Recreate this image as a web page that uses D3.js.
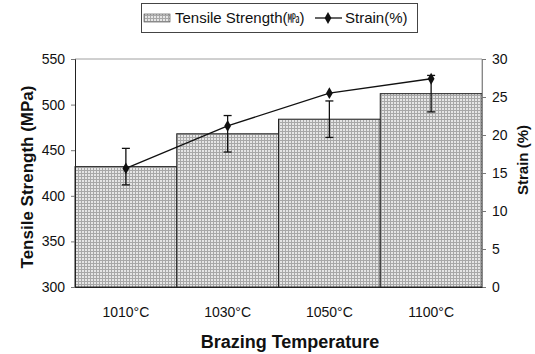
<!DOCTYPE html>
<html>
<head>
<meta charset="utf-8">
<script src="https://cdn.jsdelivr.net/npm/d3@7/dist/d3.min.js"></script>
<style>
  body { margin: 0; background: #fff; }
  text { font-family: "Liberation Sans", Arial, sans-serif; fill: #111; }
</style>
</head>
<body>
<div id="chart"></div>
<script>
const temps = ['1010°C', '1030°C', '1050°C', '1100°C'];
const strength = [432, 468, 484, 512];
const strengthErr = [20, 20, 20, 20];
const strain = [15.6, 21.2, 25.5, 27.4];
const leftTicks = [300, 350, 400, 450, 500, 550];
const rightTicks = [0, 5, 10, 15, 20, 25, 30];

const W = 535, H = 354;
const margin = { top: 59, right: 53, bottom: 67, left: 75 };
const w = W - margin.left - margin.right;
const h = H - margin.top - margin.bottom;

const svg = d3.select('#chart').append('svg')
  .attr('width', W)
  .attr('height', H);

// dotted grey fill like the scanned hatch
const defs = svg.append('defs');
const pat = defs.append('pattern')
  .attr('id', 'hatch')
  .attr('width', 3).attr('height', 3)
  .attr('patternUnits', 'userSpaceOnUse');
pat.append('rect').attr('width', 3).attr('height', 3).attr('fill', '#e6e6e6');
pat.append('rect').attr('width', 3).attr('height', 1).attr('fill', '#a8a8a8');
pat.append('rect').attr('width', 1).attr('height', 3).attr('fill', '#a8a8a8');

const g = svg.append('g')
  .attr('transform', `translate(${margin.left},${margin.top})`);

const x = d3.scaleBand().domain(temps).range([0, w]).padding(0);
const y = d3.scaleLinear().domain([300, 550]).range([h, 0]);
const y2 = d3.scaleLinear().domain([0, 30]).range([h, 0]);

// frame (top + right, light)
g.append('path')
  .attr('d', `M0,0H${w}V${h}`)
  .attr('fill', 'none')
  .attr('stroke', '#888')
  .attr('stroke-width', 0.8);

// bars
g.selectAll('.bar')
  .data(temps)
  .enter().append('rect')
  .attr('class', 'bar')
  .attr('x', d => x(d))
  .attr('width', x.bandwidth())
  .attr('y', (d, i) => y(strength[i]))
  .attr('height', (d, i) => h - y(strength[i]))
  .attr('fill', 'url(#hatch)')
  .attr('stroke', '#222')
  .attr('stroke-width', 1);

// error bars for strength
const cap = 4;
const eb = g.selectAll('.err')
  .data(temps)
  .enter().append('g')
  .attr('class', 'err')
  .attr('stroke', '#111')
  .attr('stroke-width', 1.3);
eb.append('line')
  .attr('x1', d => x(d) + x.bandwidth() / 2)
  .attr('x2', d => x(d) + x.bandwidth() / 2)
  .attr('y1', (d, i) => y(strength[i] + strengthErr[i]))
  .attr('y2', (d, i) => y(strength[i] - strengthErr[i]));
eb.append('line')
  .attr('x1', d => x(d) + x.bandwidth() / 2 - cap)
  .attr('x2', d => x(d) + x.bandwidth() / 2 + cap)
  .attr('y1', (d, i) => y(strength[i] + strengthErr[i]))
  .attr('y2', (d, i) => y(strength[i] + strengthErr[i]));
eb.append('line')
  .attr('x1', d => x(d) + x.bandwidth() / 2 - cap)
  .attr('x2', d => x(d) + x.bandwidth() / 2 + cap)
  .attr('y1', (d, i) => y(strength[i] - strengthErr[i]))
  .attr('y2', (d, i) => y(strength[i] - strengthErr[i]));

// strain line
const line = d3.line()
  .x((d, i) => x(temps[i]) + x.bandwidth() / 2)
  .y(d => y2(d));
g.append('path')
  .datum(strain)
  .attr('d', line)
  .attr('fill', 'none')
  .attr('stroke', '#111')
  .attr('stroke-width', 1.3);

const diamond = d3.symbol().type(d3.symbolDiamond).size(40);
g.selectAll('.pt')
  .data(strain)
  .enter().append('path')
  .attr('class', 'pt')
  .attr('d', diamond)
  .attr('transform', (d, i) => `translate(${x(temps[i]) + x.bandwidth() / 2},${y2(d)})`)
  .attr('fill', '#111');

// axes
const axL = g.append('g')
  .call(d3.axisLeft(y).tickValues(leftTicks).tickSize(4).tickPadding(6));
const axR = g.append('g')
  .attr('transform', `translate(${w},0)`)
  .call(d3.axisRight(y2).tickValues(rightTicks).tickSize(4).tickPadding(6));
const axB = g.append('g')
  .attr('transform', `translate(0,${h})`)
  .call(d3.axisBottom(x).tickSize(0).tickPadding(20));

[axL, axR, axB].forEach(a => {
  a.selectAll('text').style('font-size', '14px').attr('fill', '#222');
  a.selectAll('line').attr('stroke', '#777');
});
axL.select('.domain').attr('stroke', '#222');
axR.select('.domain').attr('stroke', '#888');
axB.select('.domain').attr('stroke', '#222');

// axis titles
svg.append('text')
  .attr('transform', `translate(27,${margin.top + h / 2 + 4}) rotate(-90)`)
  .attr('text-anchor', 'middle')
  .attr('dy', '0.35em')
  .style('font-size', '17px')
  .style('font-weight', 'bold')
  .text('Tensile Strength (MPa)');

svg.append('text')
  .attr('transform', `translate(523,${margin.top + h / 2 - 13}) rotate(-90)`)
  .attr('text-anchor', 'middle')
  .attr('dy', '0.35em')
  .style('font-size', '15px')
  .style('font-weight', 'bold')
  .text('Strain (%)');

svg.append('text')
  .attr('x', 290)
  .attr('y', 342)
  .attr('text-anchor', 'middle')
  .attr('dy', '0.35em')
  .style('font-size', '18px')
  .style('font-weight', 'bold')
  .text('Brazing Temperature');

// legend
const lg = svg.append('g');
lg.append('rect')
  .attr('x', 141.5).attr('y', 3.5)
  .attr('width', 276).attr('height', 29)
  .attr('fill', '#fff')
  .attr('stroke', '#444');
lg.append('rect')
  .attr('x', 144).attr('y', 14)
  .attr('width', 26).attr('height', 8)
  .attr('fill', 'url(#hatch)')
  .attr('stroke', '#444')
  .attr('stroke-width', 0.6);
lg.append('text')
  .attr('x', 175).attr('y', 18)
  .attr('dy', '0.35em')
  .style('font-size', '15px')
  .text('Tensile Strength(')
  .append('tspan')
  .style('font-family', '"Noto Sans CJK JP", sans-serif')
  .style('font-size', '12px')
  .text('㎫')
  .select(function () { return this.parentNode; })
  .append('tspan')
  .text(')');
lg.append('line')
  .attr('x1', 315).attr('x2', 342)
  .attr('y1', 18).attr('y2', 18)
  .attr('stroke', '#111')
  .attr('stroke-width', 1.3);
lg.append('path')
  .attr('d', diamond)
  .attr('transform', 'translate(328,18)')
  .attr('fill', '#111');
lg.append('text')
  .attr('x', 345).attr('y', 18)
  .attr('dy', '0.35em')
  .style('font-size', '15px')
  .text('Strain(%)');
</script>
</body>
</html>
